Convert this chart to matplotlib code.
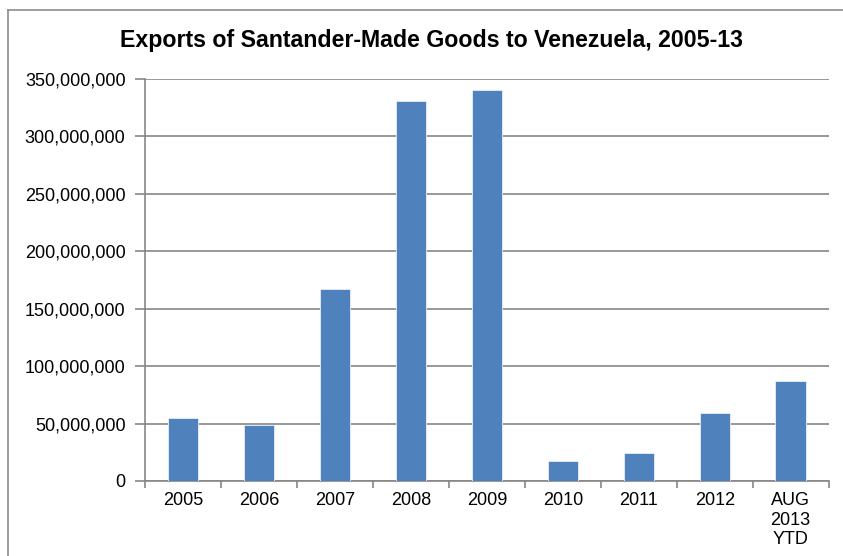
import matplotlib.pyplot as plt
from matplotlib.ticker import FuncFormatter
from matplotlib.lines import Line2D

plt.rcParams['font.family'] = ['Liberation Sans', 'DejaVu Sans']

# Datos
years = ["2005", "2006", "2007", "2008", "2009", "2010", "2011", "2012", "AUG\n2013\nYTD"]
exports = [54_600_000, 48_300_000, 167_000_000, 331_000_000, 340_600_000,
           17_400_000, 23_900_000, 59_200_000, 86_800_000]

fig = plt.figure(figsize=(8.43, 5.56), dpi=100)
ax = fig.add_axes([0.172, 0.135, 0.811, 0.723])

x = range(len(years))
ax.bar(x, exports, width=0.4, color='#4F81BD', edgecolor='#E8EEF7', linewidth=0.6, zorder=3)

ax.set_xlim(-0.5, len(years) - 0.5)
ax.set_ylim(0, 350_000_000)
ax.set_yticks(range(0, 350_000_001, 50_000_000))
ax.yaxis.set_major_formatter(FuncFormatter(lambda v, p: f"{int(v):,}"))

# ticks en los limites de cada categoria
ax.set_xticks([i - 0.5 for i in range(len(years) + 1)])
ax.set_xticklabels([])
ax.set_xticks(list(x), minor=True)
ax.set_xticklabels(years, minor=True, linespacing=1.2)
ax.tick_params(axis='x', which='minor', length=0, pad=8, labelsize=13)
ax.tick_params(axis='x', which='major', length=5, color='#868686', width=1.2)
ax.tick_params(axis='y', length=7, color='#868686', width=1.2, labelsize=13, pad=7)

ax.grid(axis='y', color='#868686', linewidth=1.2, zorder=0)
for side in ['top', 'right']:
    ax.spines[side].set_visible(False)
for side in ['left', 'bottom']:
    ax.spines[side].set_color('#868686')
    ax.spines[side].set_linewidth(1.2)

fig.text(0.512, 0.928, "Exports of Santander-Made Goods to Venezuela, 2005-13",
         ha='center', va='center', fontsize=16.7, fontweight='bold')

# marco del grafico
fig.add_artist(Line2D([8 / 843, 8 / 843], [0, 1 - 10 / 556], color='#8C8C8C', lw=1.2))
fig.add_artist(Line2D([8 / 843, 1], [1 - 10 / 556, 1 - 10 / 556], color='#8C8C8C', lw=1.2))

fig.savefig("out.png", dpi=100)
